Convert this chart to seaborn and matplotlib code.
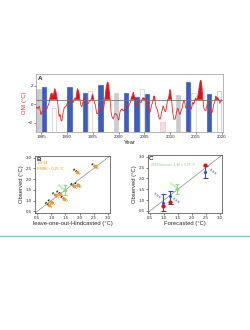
import numpy as np
import pandas as pd
import matplotlib
matplotlib.use("Agg")
import matplotlib.pyplot as plt
from matplotlib.lines import Line2D
import seaborn as sns

# ONI, running 3-month seasons (DJF ... NDJ), one row per year from 1984
oni_start = 1984
oni = [
	-0.4, -0.3, -0.3, -0.4, -0.5, -0.4, -0.3, -0.2, -0.3, -0.6, -0.9, -1.1,
	-1.0, -0.8, -0.8, -0.8, -0.8, -0.6, -0.5, -0.5, -0.4, -0.3, -0.3, -0.4,
	-0.5, -0.5, -0.3, -0.2, -0.1, 0.0, 0.2, 0.4, 0.7, 0.9, 1.1, 1.2,
	1.2, 1.2, 1.1, 0.9, 1.0, 1.2, 1.5, 1.7, 1.6, 1.5, 1.3, 1.1,
	0.8, 0.5, 0.1, -0.3, -0.9, -1.3, -1.3, -1.1, -1.2, -1.5, -1.8, -1.8,
	-1.7, -1.4, -1.1, -0.8, -0.6, -0.4, -0.3, -0.3, -0.2, -0.2, -0.2, -0.1,
	0.1, 0.2, 0.3, 0.3, 0.2, 0.2, 0.3, 0.3, 0.4, 0.3, 0.4, 0.4,
	0.4, 0.3, 0.2, 0.3, 0.5, 0.6, 0.7, 0.6, 0.6, 0.8, 1.2, 1.5,
	1.7, 1.6, 1.5, 1.3, 1.1, 0.7, 0.4, 0.1, -0.1, -0.2, -0.3, -0.1,
	0.1, 0.3, 0.5, 0.7, 0.7, 0.6, 0.3, 0.3, 0.2, 0.1, 0.0, 0.1,
	0.1, 0.1, 0.2, 0.3, 0.4, 0.4, 0.4, 0.4, 0.6, 0.7, 1.0, 1.1,
	1.0, 0.7, 0.5, 0.3, 0.1, 0.0, -0.2, -0.5, -0.8, -1.0, -1.0, -1.0,
	-0.9, -0.8, -0.6, -0.4, -0.3, -0.3, -0.3, -0.3, -0.4, -0.4, -0.5, -0.5,
	-0.5, -0.4, -0.1, 0.3, 0.8, 1.2, 1.6, 1.9, 2.1, 2.3, 2.4, 2.4,
	2.2, 1.9, 1.4, 1.0, 0.5, -0.1, -0.8, -1.1, -1.3, -1.4, -1.5, -1.6,
	-1.5, -1.3, -1.1, -1.0, -1.0, -1.0, -1.1, -1.1, -1.2, -1.3, -1.5, -1.7,
	-1.7, -1.4, -1.1, -0.8, -0.7, -0.6, -0.6, -0.5, -0.5, -0.6, -0.7, -0.7,
	-0.7, -0.5, -0.4, -0.3, -0.3, -0.1, -0.1, -0.1, -0.2, -0.3, -0.3, -0.3,
	-0.1, 0.0, 0.1, 0.2, 0.4, 0.7, 0.8, 0.9, 1.0, 1.2, 1.3, 1.1,
	0.9, 0.6, 0.4, 0.0, -0.3, -0.2, 0.1, 0.2, 0.3, 0.3, 0.4, 0.4,
	0.4, 0.3, 0.2, 0.2, 0.2, 0.3, 0.5, 0.6, 0.7, 0.7, 0.7, 0.7,
	0.6, 0.6, 0.4, 0.4, 0.3, 0.1, -0.1, -0.1, -0.1, -0.3, -0.6, -0.8,
	-0.9, -0.8, -0.6, -0.4, -0.1, 0.0, 0.1, 0.3, 0.5, 0.8, 0.9, 0.9,
	0.7, 0.2, -0.1, -0.3, -0.4, -0.5, -0.6, -0.8, -1.1, -1.3, -1.5, -1.6,
	-1.6, -1.5, -1.3, -1.0, -0.8, -0.6, -0.4, -0.2, -0.2, -0.4, -0.6, -0.7,
	-0.8, -0.8, -0.6, -0.3, 0.0, 0.3, 0.5, 0.6, 0.7, 1.0, 1.4, 1.6,
	1.5, 1.2, 0.8, 0.4, -0.2, -0.7, -1.0, -1.3, -1.6, -1.6, -1.6, -1.6,
	-1.4, -1.2, -0.9, -0.7, -0.6, -0.4, -0.5, -0.6, -0.8, -1.0, -1.1, -1.0,
	-0.9, -0.7, -0.6, -0.5, -0.3, 0.0, 0.2, 0.4, 0.4, 0.3, 0.1, -0.2,
	-0.4, -0.4, -0.3, -0.3, -0.4, -0.4, -0.4, -0.3, -0.3, -0.2, -0.2, -0.3,
	-0.4, -0.5, -0.3, 0.0, 0.2, 0.2, 0.0, 0.1, 0.2, 0.5, 0.6, 0.7,
	0.5, 0.5, 0.5, 0.7, 0.9, 1.2, 1.5, 1.9, 2.2, 2.4, 2.6, 2.6,
	2.5, 2.1, 1.6, 0.9, 0.4, -0.1, -0.4, -0.5, -0.6, -0.7, -0.7, -0.6,
	-0.3, -0.2, 0.1, 0.2, 0.3, 0.3, 0.1, -0.1, -0.4, -0.7, -0.8, -1.0,
	-0.9, -0.9, -0.7, -0.5, -0.2, 0.0, 0.1, 0.2, 0.5, 0.8, 0.9, 0.8,
	0.7, 0.7, 0.7, 0.7, 0.5, 0.5, 0.3, 0.1, 0.2, 0.3, 0.5, 0.5,
]
oni_threshold = 0.5

# yearly bars in panel A (drawn up from the bottom of the axis)
blue_years = [1985, 1990, 1993, 1996, 2001, 2003, 2005, 2013, 2017]
blue_vals = [1.83, 1.9, 1.27, 2.13, 1.2, 0.82, 1.12, 2.43, 1.12]
gray_years = [1984, 1999, 2011]
gray_vals = [1.7, 1.27, 1.0]
white_years = [1987, 1994, 2004, 2014]
white_vals = [-0.4, 1.5, 1.65, 1.2]
pink_years = [2008]
pink_vals = [-1.9]
green_years = [2019]
green_vals = [1.5]

# panel B: leave-one-out hindcasts
hind_x = [2.55, 1.9, 1.95, 1.8, 1.3, 1.45, 1.15, 1.0, 0.9]
hind_y = [2.6, 2.35, 1.72, 1.68, 1.33, 1.08, 1.25, 0.92, 0.8]
fc2019_x = 1.48
fc2019_y = 1.5
fc2019_lo = 1.26
fc2019_hi = 1.75

# panel C: forecasts vs observations
fc_x = [0.96, 1.2, 2.47]
fc_y = [0.88, 1.17, 2.3]
fc_lo = [0.52, 0.8, 2.04]
fc_hi = [1.3, 1.4, 2.55]
obs_y = [0.72, 0.92, 2.6]
fc_band_x = [0.78, 1.45, 2.77]
fc_band_y = [1.2, 0.98, 2.3]
fc_green_band = (1.36, 1.66)

blue = '#3d5dbb'
red = '#e01010'
orange = '#f0a020'
green = '#9ad48a'

sns.set_style('ticks')
plt.rcParams['font.family'] = ['Liberation Sans', 'DejaVu Sans']
plt.rcParams['axes.linewidth'] = 0.5
plt.rcParams['xtick.major.width'] = 0.4
plt.rcParams['ytick.major.width'] = 0.4
plt.rcParams['xtick.major.size'] = 1.5
plt.rcParams['ytick.major.size'] = 1.5
plt.rcParams['xtick.major.pad'] = 0.8
plt.rcParams['ytick.major.pad'] = 0.8

fs_tick = 3.2
fs_lab = 4.2

fig = plt.figure(figsize=(2.5, 3.3), dpi=100)

# ---------------- panel A ----------------
axA = fig.add_axes([0.144, 0.6, 0.747, 0.176])
ybot = -3.0

def bars(years, vals, face, edge):
	x = np.array(years) + 0.5
	h = np.array(vals) - ybot
	axA.bar(x, h, bottom=ybot, width=0.85, color=face, edgecolor=edge,
		linewidth=0.5, zorder=1)

bars(white_years, white_vals, 'white', '#cfcfcf')
bars(gray_years, gray_vals, '#cccccc', '#cccccc')
bars(pink_years, pink_vals, '#f7dde2', '#f0c8d0')
bars(green_years, green_vals, 'white', '#9ed69a')
bars(blue_years, blue_vals, blue, blue)

oni_df = pd.DataFrame({'ONI': oni})
oni_df['t'] = oni_start + (np.arange(len(oni)) + 0.5) / 12.0
axA.fill_between(oni_df['t'], oni_threshold, oni_df['ONI'],
	where=oni_df['ONI'] > oni_threshold, interpolate=True,
	color=red, linewidth=0, zorder=2)
sns.lineplot(data=oni_df, x='t', y='ONI', ax=axA, color='#d83030',
	linewidth=0.6, zorder=3)
axA.axhline(oni_threshold, color='#777777', linewidth=0.6, zorder=2)

axA.set_xlim(1984, 2020.2)
axA.set_ylim(ybot, 3.3)
axA.set_xticks(range(1985, 2021, 5))
axA.set_yticks([-2, 0, 2])
axA.tick_params(labelsize=fs_tick)
axA.set_xlabel('Year', fontsize=fs_lab, labelpad=0.5)
axA.set_ylabel('ONI (°C)', fontsize=fs_lab, color='#d83030', labelpad=1)
for s in axA.spines.values():
	s.set_color('#999999')
axA.text(0.012, 0.97, 'A', transform=axA.transAxes, fontsize=4.5,
	fontweight='bold', va='top', ha='left')

# ---------------- panel B ----------------
axB = fig.add_axes([0.14, 0.3545, 0.3, 0.1727])
lims = (0.42, 3.08)
axB.plot(lims, lims, color='#888888', linewidth=0.5, zorder=1)

d = 0.11
for x, y in zip(hind_x, hind_y):
	axB.plot([x - d, x + d], [y + d, y - d], color='#222222', linewidth=1.5,
		dashes=(0.6, 0.6), zorder=2)
hind_df = pd.DataFrame({'x': hind_x, 'y': hind_y})
sns.scatterplot(data=hind_df, x='x', y='y', ax=axB, color=orange, s=7,
	linewidth=0, zorder=3)

axB.plot([fc2019_x - 0.22, fc2019_x], [fc2019_y + 0.22, fc2019_y],
	color='#cfeac8', linewidth=1.6, zorder=2)
axB.errorbar([fc2019_x], [fc2019_y],
	yerr=[[fc2019_y - fc2019_lo], [fc2019_hi - fc2019_y]],
	fmt='o', color=green, ms=1.8, elinewidth=0.8, capsize=1.5,
	capthick=0.8, zorder=3)

axB.text(0.03, 0.86, 'r=0.94', transform=axB.transAxes, fontsize=2.6,
	color='#e0a000')
axB.text(0.03, 0.76, 'RMSE = 0.25 °C', transform=axB.transAxes,
	fontsize=2.6, color='#e0a000')
axB.text(0.02, 0.99, 'B', transform=axB.transAxes, fontsize=4.5,
	fontweight='bold', va='top')

# ---------------- panel C ----------------
axC = fig.add_axes([0.591, 0.3555, 0.298, 0.175])
axC.plot(lims, lims, color='#888888', linewidth=0.5, zorder=1)

for cx, cy in zip(fc_band_x, fc_band_y):
	axC.plot([cx - d, cx + d], [cy + d, cy - d], color='#8fa4d8',
		linewidth=1.5, dashes=(0.8, 0.5), zorder=2)
gx, gy = fc_green_band
axC.plot([gx - d, gx + d], [gy + d, gy - d], color='#cfeac8', linewidth=1.5,
	zorder=2)

fc_err = [np.array(fc_y) - np.array(fc_lo), np.array(fc_hi) - np.array(fc_y)]
axC.errorbar(fc_x, fc_y, yerr=fc_err, fmt='none', ecolor='#2f4fa8',
	elinewidth=0.8, capsize=1.8, capthick=0.8, zorder=3)
obs_df = pd.DataFrame({'x': fc_x, 'y': obs_y})
sns.scatterplot(data=obs_df, x='x', y='y', ax=axC, color=red, s=9,
	linewidth=0, zorder=4)
fc_df = pd.DataFrame({'x': fc_x, 'y': fc_y})
sns.scatterplot(data=fc_df, x='x', y='y', ax=axC, color='#2f4fa8', s=5,
	linewidth=0, zorder=5)
axC.errorbar([fc2019_x], [fc2019_y],
	yerr=[[fc2019_y - fc2019_lo], [fc2019_hi - fc2019_y]],
	fmt='o', color=green, ms=1.8, elinewidth=0.8, capsize=1.5,
	capthick=0.8, zorder=3)

axC.text(0.04, 0.8, '2019 forecast: 1.48 ± 0.25 °C', transform=axC.transAxes,
	fontsize=2.4, color='#8fce80')
axC.text(0.02, 0.99, 'C', transform=axC.transAxes, fontsize=4.5,
	fontweight='bold', va='top')

ticks = [0.5, 1.0, 1.5, 2.0, 2.5, 3.0]
for ax, xl in [(axB, 'leave-one-out-Hindcasted (°C)'), (axC, 'Forecasted (°C)')]:
	ax.set_xlim(lims)
	ax.set_ylim(lims)
	ax.set_xticks(ticks)
	ax.set_yticks(ticks)
	ax.tick_params(labelsize=fs_tick)
	ax.set_xlabel(xl, fontsize=fs_lab, labelpad=0.5)
	ax.set_ylabel('Observed (°C)', fontsize=fs_lab, labelpad=1)
	for s in ax.spines.values():
		s.set_color('#444444')

# teal separator line
fig.add_artist(Line2D([0, 1], [1 - 236 / 330] * 2, transform=fig.transFigure,
	color='#6ec9c4', linewidth=1.0))

fig.savefig('out.png', dpi=100)
